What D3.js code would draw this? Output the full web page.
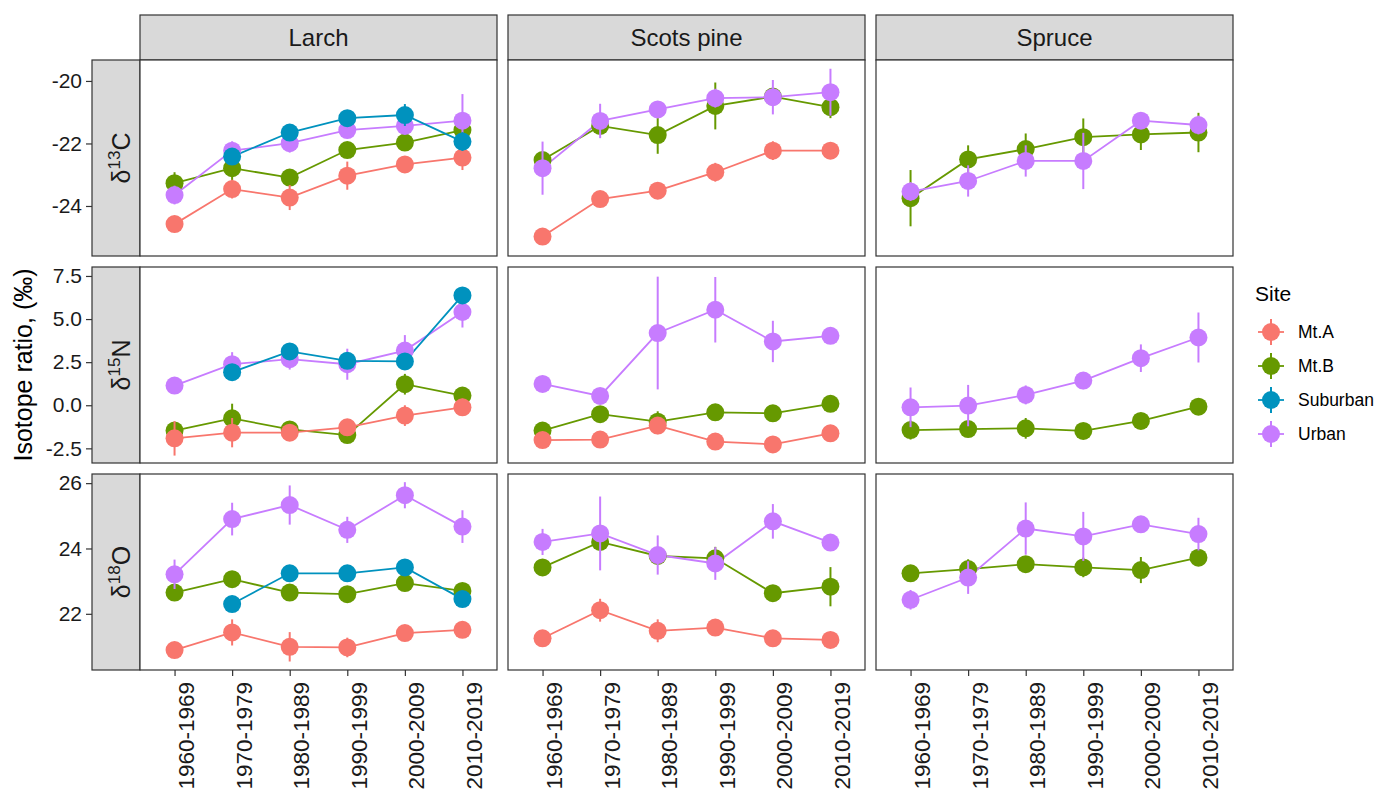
<!DOCTYPE html>
<html>
<head>
<meta charset="utf-8">
<script src="https://cdn.jsdelivr.net/npm/d3@7"></script>
<style>
  body { margin: 0; background: #fff; }
  text { font-family: "Liberation Sans", Arial, sans-serif; }
</style>
</head>
<body>
<div id="chart-area"></div>
<script>
const periods = ["1960-1969", "1970-1979", "1980-1989", "1990-1999", "2000-2009", "2010-2019"];
const speciesNames = ["Larch", "Scots pine", "Spruce"];
const siteNames = ["Mt.A", "Mt.B", "Suburban", "Urban"];
const siteColors = ["#F8766D", "#669900", "#0092BE", "#C77CFF"];
// order the sites are painted in (later ones sit on top)
const drawOrder = [1, 3, 0, 2];

// rows: Mt.A, Mt.B, Suburban, Urban (null = not sampled)
const c13Larch = [[-24.58, -23.46, -23.73, -23.03, -22.67, -22.45],
                  [-23.27, -22.79, -23.09, -22.21, -21.97, -21.57],
                  [null, -22.42, -21.65, -21.19, -21.09, -21.94],
                  [-23.65, -22.23, -21.99, -21.57, -21.44, -21.27]];
const c13LarchSe = [[0.15, 0.3, 0.4, 0.45, 0.2, 0.4],
                    [0.35, 0.4, 0.2, 0.2, 0.2, 0.25],
                    [null, 0.2, 0.2, 0.2, 0.35, 0.3],
                    [0.3, 0.3, 0.3, 0.2, 0.2, 0.85]];
const c13Pine = [[-24.98, -23.78, -23.51, -22.92, -22.23, -22.23],
                 [-22.53, -21.44, -21.73, -20.80, -20.50, -20.84],
                 null,
                 [-22.79, -21.28, -20.91, -20.55, -20.52, -20.36]];
const c13PineSe = [[0.25, 0.15, 0.15, 0.3, 0.3, 0.15],
                   [0.2, 0.2, 0.6, 0.75, 0.2, 0.35],
                   null,
                   [0.85, 0.55, 0.25, 0.3, 0.55, 0.75]];
const c13Spruce = [null,
                   [-23.75, -22.51, -22.18, -21.80, -21.71, -21.65],
                   null,
                   [-23.54, -23.20, -22.56, -22.56, -21.27, -21.41]];
const c13SpruceSe = [null,
                     [0.9, 0.45, 0.5, 0.6, 0.5, 0.63],
                     null,
                     [0.3, 0.5, 0.5, 0.9, 0.2, 0.3]];

const n15Larch = [[-1.92, -1.59, -1.59, -1.28, -0.60, -0.12],
                  [-1.47, -0.76, -1.40, -1.73, 1.22, 0.56],
                  [null, 1.92, 3.12, 2.58, 2.54, 6.37],
                  [1.14, 2.38, 2.67, 2.38, 3.17, 5.41]];
const n15LarchSe = [[1.0, 0.85, 0.4, 0.4, 0.6, 0.5],
                    [0.5, 0.85, 0.4, 0.4, 0.6, 0.4],
                    [null, 0.4, 0.4, 0.4, 0.4, 0.4],
                    [0.4, 0.7, 0.6, 0.9, 0.9, 0.9]];
const n15Pine = [[-2.02, -1.99, -1.18, -2.11, -2.27, -1.63],
                 [-1.47, -0.52, -0.95, -0.41, -0.47, 0.08],
                 null,
                 [1.24, 0.54, 4.19, 5.54, 3.70, 4.03]];
const n15PineSe = [[0.3, 0.3, 0.5, 0.3, 0.3, 0.3],
                   [0.3, 0.3, 0.6, 0.3, 0.3, 0.3],
                   null,
                   [0.4, 0.4, 3.27, 1.9, 1.2, 0.4]];
const n15Spruce = [null,
                   [-1.44, -1.38, -1.34, -1.49, -0.91, -0.08],
                   null,
                   [-0.12, -0.02, 0.60, 1.43, 2.73, 3.93]];
const n15SpruceSe = [null,
                     [0.55, 0.4, 0.6, 0.4, 0.4, 0.4],
                     null,
                     [1.15, 1.2, 0.55, 0.5, 0.8, 1.45]];

const o18Larch = [[20.89, 21.43, 20.99, 20.97, 21.41, 21.51],
                  [22.65, 23.06, 22.65, 22.60, 22.94, 22.70],
                  [null, 22.30, 23.24, 23.24, 23.42, 22.45],
                  [23.21, 24.90, 25.33, 24.57, 25.63, 24.67]];
const o18LarchSe = [[0.2, 0.4, 0.45, 0.3, 0.2, 0.2],
                    [0.2, 0.2, 0.2, 0.2, 0.2, 0.2],
                    [null, 0.2, 0.2, 0.2, 0.2, 0.2],
                    [0.45, 0.5, 0.6, 0.4, 0.4, 0.5]];
const o18Pine = [[21.25, 22.11, 21.48, 21.58, 21.25, 21.20],
                 [23.42, 24.20, 23.77, 23.70, 22.63, 22.83],
                 null,
                 [24.20, 24.46, 23.80, 23.54, 24.83, 24.18]];
const o18PineSe = [[0.25, 0.35, 0.35, 0.2, 0.2, 0.2],
                   [0.2, 0.2, 0.2, 0.35, 0.2, 0.6],
                   null,
                   [0.4, 1.13, 0.6, 0.5, 0.53, 0.2]];
const o18Spruce = [null,
                   [23.24, 23.37, 23.52, 23.42, 23.34, 23.72],
                   null,
                   [22.43, 23.11, 24.61, 24.37, 24.74, 24.44]];
const o18SpruceSe = [null,
                     [0.2, 0.3, 0.2, 0.3, 0.4, 0.2],
                     null,
                     [0.3, 0.5, 0.8, 0.75, 0.2, 0.5]];

// plain hyphen for negatives, like the original
const hy = f => d => f(d).replace("−", "-")
const isotopes = [
  { iso: "13", el: "C", ticks: [-24, -22, -20], fmt: hy(d3.format("d")), domain: [-25.6, -19.33] },
  { iso: "15", el: "N", ticks: [-2.5, 0, 2.5, 5, 7.5], fmt: hy(d3.format(".1f")), domain: [-3.35, 8.02] },
  { iso: "18", el: "O", ticks: [22, 24, 26], fmt: hy(d3.format("d")), domain: [20.28, 26.28] }
];
const panelMeans = [[c13Larch, c13Pine, c13Spruce], [n15Larch, n15Pine, n15Spruce], [o18Larch, o18Pine, o18Spruce]];
const panelSe = [[c13LarchSe, c13PineSe, c13SpruceSe], [n15LarchSe, n15PineSe, n15SpruceSe], [o18LarchSe, o18PineSe, o18SpruceSe]];

const LEFT = 140, TOP = 60, PW = 357, PH = 196, GAP_X = 11, GAP_Y = 11;
const STRIP_H = 45, STRIP_W = 48;
const R = 9;

const svg = d3.select("#chart-area").append("svg")
      .attr("width", 1375)
      .attr("height", 793)

const x = d3.scalePoint()
      .domain(periods)
      .range([0, PW])
      .padding(0.6)

// column strips
speciesNames.forEach((name, c) => {
  const sx = LEFT + c * (PW + GAP_X)
  svg.append("rect")
        .attr("x", sx).attr("y", TOP - STRIP_H)
        .attr("width", PW).attr("height", STRIP_H)
        .attr("fill", "#D9D9D9").attr("stroke", "#333").attr("stroke-width", 1.2)
  svg.append("text")
        .attr("x", sx + PW / 2).attr("y", TOP - 14)
        .attr("text-anchor", "middle")
        .attr("font-size", "24px").attr("fill", "#1a1a1a")
        .text(name)
})

isotopes.forEach((iso, r) => {
  const py = TOP + r * (PH + GAP_Y)
  const y = d3.scaleLinear().domain(iso.domain).range([PH, 0])

  // row strip
  svg.append("rect")
        .attr("x", LEFT - STRIP_W).attr("y", py)
        .attr("width", STRIP_W).attr("height", PH)
        .attr("fill", "#D9D9D9").attr("stroke", "#333").attr("stroke-width", 1.2)
  const lab = svg.append("text")
        .attr("transform", `translate(${LEFT - 10}, ${py + PH / 2}) rotate(-90)`)
        .attr("text-anchor", "middle")
        .attr("font-size", "25px").attr("fill", "#1a1a1a")
  lab.append("tspan").text("δ")
  lab.append("tspan").attr("font-size", "17px").attr("dy", -10).text(iso.iso)
  lab.append("tspan").attr("dy", 10).text(iso.el)

  // y axis, left of the strip
  svg.append("g")
        .attr("transform", `translate(${LEFT - STRIP_W}, ${py})`)
        .call(d3.axisLeft(y).tickValues(iso.ticks).tickFormat(iso.fmt).tickSize(6).tickPadding(4))
        .call(g => g.select(".domain").remove())
        .call(g => g.selectAll("line").attr("stroke", "#333").attr("stroke-width", 1.2))
        .call(g => g.selectAll("text").attr("font-size", "21px").attr("fill", "#1a1a1a")
                    .attr("font-family", "Liberation Sans, Arial, sans-serif"))

  speciesNames.forEach((sp, c) => {
    const px = LEFT + c * (PW + GAP_X)
    const g = svg.append("g").attr("transform", `translate(${px}, ${py})`)
    const means = panelMeans[r][c]
    const se = panelSe[r][c]

    g.append("rect")
          .attr("width", PW).attr("height", PH)
          .attr("fill", "#fff")

    const series = drawOrder.filter(s => means[s]).map(s => ({
      color: siteColors[s],
      pts: periods.map((p, i) => ({ p: p, v: means[s][i], e: se[s][i] })).filter(d => d.v !== null)
    }))

    const line = d3.line().x(d => x(d.p)).y(d => y(d.v))

    series.forEach(s => {
      g.append("path")
            .datum(s.pts)
            .attr("d", line)
            .attr("fill", "none")
            .attr("stroke", s.color)
            .attr("stroke-width", 1.8)
    })

    series.forEach(s => {
      g.selectAll(null).data(s.pts).enter().append("line")
            .attr("x1", d => x(d.p)).attr("x2", d => x(d.p))
            .attr("y1", d => y(d.v - d.e)).attr("y2", d => y(d.v + d.e))
            .attr("stroke", s.color)
            .attr("stroke-width", 2)
      g.selectAll(null).data(s.pts).enter().append("circle")
            .attr("cx", d => x(d.p)).attr("cy", d => y(d.v))
            .attr("r", R)
            .attr("fill", s.color)
    })

    g.append("rect")
          .attr("width", PW).attr("height", PH)
          .attr("fill", "none").attr("stroke", "#333").attr("stroke-width", 1.2)

    // x axis only under the bottom row
    if (r === isotopes.length - 1) {
      const ax = g.append("g")
            .attr("transform", `translate(0, ${PH})`)
            .call(d3.axisBottom(x).tickSize(6).tickPadding(4))
            .call(g => g.select(".domain").remove())
            .call(g => g.selectAll("line").attr("stroke", "#333").attr("stroke-width", 1.2))
      ax.selectAll("text")
            .attr("font-size", "22.5px").attr("fill", "#1a1a1a")
            .attr("font-family", "Liberation Sans, Arial, sans-serif")
            .attr("text-anchor", "end")
            .attr("dy", null)
            .attr("y", 0)
            .attr("transform", "translate(19, 12) rotate(-90)")
    }
  })
})

// y title
svg.append("text")
      .attr("transform", `translate(32, ${TOP + (3 * PH + 2 * GAP_Y) / 2}) rotate(-90)`)
      .attr("text-anchor", "middle")
      .attr("font-size", "25px").attr("fill", "#000")
      .text("Isotope ratio, (‰)")

// legend
const legend = svg.append("g").attr("transform", "translate(1255, 0)")
legend.append("text")
      .attr("x", 0).attr("y", 301)
      .attr("font-size", "21px").attr("fill", "#000")
      .text("Site")

siteNames.forEach((name, i) => {
  const ky = 332 + i * 34
  const k = legend.append("g").attr("transform", `translate(16, ${ky})`)
  k.append("line").attr("x1", -13).attr("x2", 13)
        .attr("stroke", siteColors[i]).attr("stroke-width", 1.8)
  k.append("line").attr("y1", -13).attr("y2", 13)
        .attr("stroke", siteColors[i]).attr("stroke-width", 2)
  k.append("circle").attr("r", R).attr("fill", siteColors[i])
  legend.append("text")
        .attr("x", 43).attr("y", ky + 6)
        .attr("font-size", "17.5px").attr("fill", "#000")
        .text(name)
})
</script>
</body>
</html>
